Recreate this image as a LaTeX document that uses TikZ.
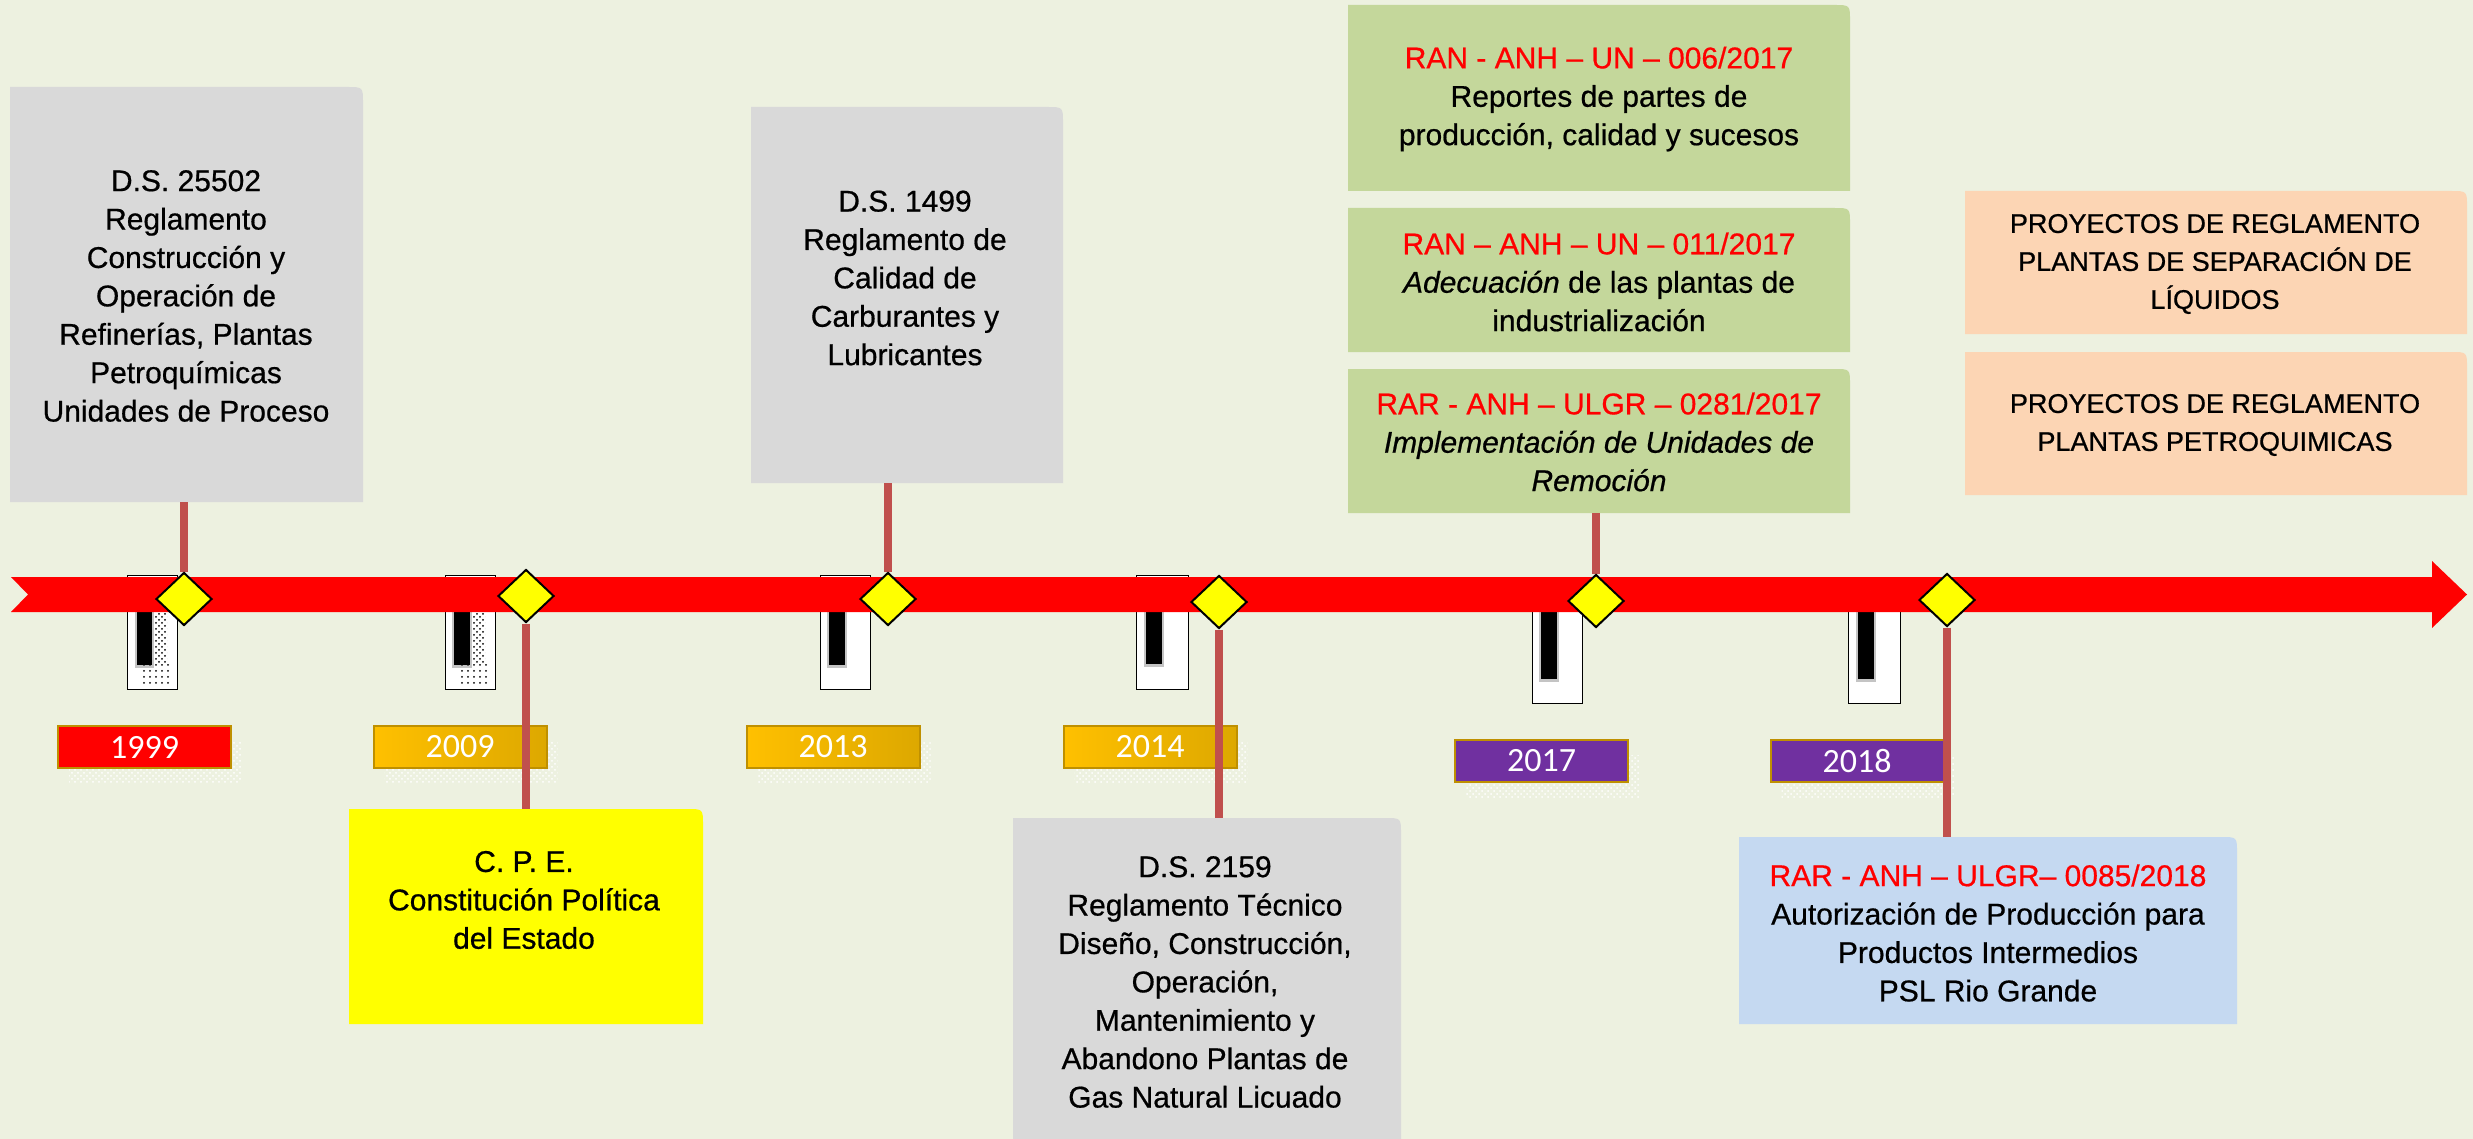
\documentclass[tikz,border=0pt]{standalone}
\usepackage{fontspec}
\setmainfont{Liberation Sans}
\newfontfamily\boxfont{Liberation Sans}[FakeBold=0.6]
\newfontfamily\yearfont{Carlito}
\usetikzlibrary{shapes.geometric,patterns,fit}
\definecolor{bgc}{HTML}{EDF1E0}
\definecolor{grayc}{HTML}{D9D9D9}
\definecolor{yelc}{HTML}{FFFF00}
\definecolor{greenc}{HTML}{C4D79B}
\definecolor{orangec}{HTML}{FCD5B4}
\definecolor{bluec}{HTML}{C5D9F1}
\definecolor{stemc}{HTML}{C0504D}
\definecolor{bandc}{HTML}{FF0000}
\definecolor{purc}{HTML}{7030A0}
\definecolor{golda}{HTML}{FFC000}
\definecolor{goldb}{HTML}{DDA800}
\definecolor{bordc}{HTML}{BF9000}
\definecolor{redt}{HTML}{FF0000}
\definecolor{barsh}{HTML}{C4C4C4}
\newcommand{\mkbox}[6]{%
  \coordinate (#1-a) at (#2,#3);
  \coordinate (#1-b) at (#4,#5);
  \node[fit=(#1-a)(#1-b), inner sep=0pt, outer sep=0pt] (#1) {};
  \fill[#6] (#1.south west) -- (#1.north west) -- ([xshift=-8pt]#1.north east)
     .. controls (#1.north east) .. ([yshift=-8pt]#1.north east) -- (#1.south east) -- cycle;
}
\newcommand{\mkmark}[7]{%
  \filldraw[fill=white, draw=black, line width=0.5pt] (#1,#2) rectangle (#3,#4);
  \fill[barsh] ({#5-2},600) rectangle ({#6+2},{#7+3});
  \fill[black] (#5,600) rectangle (#6,#7);
}
\newcommand{\mkyear}[5]{%
  \fill[pattern=crosshatch dots, pattern color=white] ({#2-86.5+11},{#3-21+15}) rectangle ({#2+86.5+11},{#3+21+15});
  \node[yr, #4] (#1) at (#2,#3) {#5};
}
\begin{document}
\begin{tikzpicture}[x=0.5pt,y=-0.5pt,
  txt/.style={align=center, inner sep=0pt, font=\boxfont\fontsize{15pt}{19.2pt}\selectfont},
  captxt/.style={align=center, inner sep=0pt, font=\boxfont\fontsize{13.5pt}{19pt}\selectfont},
  yr/.style={draw=bordc, line width=1pt, minimum width=86.5pt, minimum height=21pt, inner sep=0pt,
    text=white, font=\yearfont\fontsize{17pt}{20pt}\selectfont},
  dia/.style={diamond, draw=black, line width=1pt, fill=yelc, minimum width=28pt, minimum height=26.5pt, inner sep=0pt},
  stem/.style={draw=stemc, line width=4pt},
  goldf/.style={left color=golda, right color=goldb}]
\useasboundingbox (0,0) rectangle (2473,1139);
\fill[bgc] (0,0) rectangle (2473,1139);

% boxes
\mkbox{b1}{10}{87}{363}{502}{grayc}
\mkbox{b2}{349}{809}{703}{1024}{yelc}
\mkbox{b3}{751}{107}{1063}{483}{grayc}
\mkbox{b4}{1013}{818}{1401}{1170}{grayc}
\mkbox{g1}{1348}{5}{1850}{191}{greenc}
\mkbox{g2}{1348}{208}{1850}{352}{greenc}
\mkbox{g3}{1348}{369}{1850}{513}{greenc}
\mkbox{o1}{1965}{191}{2467}{334}{orangec}
\mkbox{o2}{1965}{352}{2467}{495}{orangec}
\mkbox{bl}{1739}{837}{2237}{1024}{bluec}

% markers
\mkmark{127}{575}{177}{689}{137}{152}{665}
\mkmark{445}{575}{495}{689}{454}{470}{665}
\mkmark{820}{575}{870}{689}{829}{845}{665}
\mkmark{1136}{575}{1188}{689}{1146}{1162}{664}
\mkmark{1532}{590}{1582}{703}{1541}{1557}{679}
\mkmark{1848}{590}{1900}{703}{1858}{1874}{679}
\fill[pattern=crosshatch dots, pattern color=black] (155,612) rectangle (167,662);
\fill[pattern=dots, pattern color=black] (142,664) rectangle (172,686);
\fill[pattern=crosshatch dots, pattern color=black] (473,612) rectangle (485,662);
\fill[pattern=dots, pattern color=black] (459,664) rectangle (489,686);

% timeline band
\fill[bandc] (11,577) -- (2432,577) -- (2432,561) -- (2467,594.5) -- (2432,628)
  -- (2432,612) -- (11,612) -- (28,594.5) -- cycle;

% year labels
\mkyear{y1}{144.5}{747}{fill=bandc}{1999}
\mkyear{y2}{460}{747}{goldf}{2009}
\mkyear{y3}{833}{747}{goldf}{2013}
\mkyear{y4}{1150}{747}{goldf}{2014}
\mkyear{y5}{1541.5}{761}{fill=purc}{2017}
\mkyear{y6}{1857}{761}{fill=purc}{2018}

% diamond positions (named), drawn after stems
\node[dia, draw=none, fill=none] (d1) at (184,599) {};
\node[dia, draw=none, fill=none] (d2) at (526,596) {};
\node[dia, draw=none, fill=none] (d3) at (888,599) {};
\node[dia, draw=none, fill=none] (d4) at (1219,602) {};
\node[dia, draw=none, fill=none] (d5) at (1596,601) {};
\node[dia, draw=none, fill=none] (d6) at (1947,600) {};

% stems
\draw[stem] (d1.north |- b1.south) -- (d1.north);
\draw[stem] (d3.north |- b3.south) -- (d3.north);
\draw[stem] (d5.north |- g3.south) -- (d5.north);
\draw[stem] (d2.south) -- (d2.south |- b2.north);
\draw[stem] (d4.south) -- (d4.south |- b4.north);
\draw[stem] (d6.south) -- (d6.south |- bl.north);

% diamonds
\node[dia] (dd1) at (d1) {};
\node[dia] (dd2) at (d2) {};
\node[dia] (dd3) at (d3) {};
\node[dia] (dd4) at (d4) {};
\node[dia] (dd5) at (d5) {};
\node[dia] (dd6) at (d6) {};

% texts
\node[txt] (t1) at (186,296) {D.S. 25502\\Reglamento\\Construcción y\\Operación de\\Refinerías, Plantas\\Petroquímicas\\Unidades de Proceso};
\node[txt] (t2) at (524,900) {C. P. E.\\Constitución Política\\del Estado};
\node[txt] (t3) at (905,278) {D.S. 1499\\Reglamento de\\Calidad de\\Carburantes y\\Lubricantes};
\node[txt] (t4) at (1205,982) {D.S. 2159\\Reglamento Técnico\\Diseño, Construcción,\\Operación,\\Mantenimiento y\\Abandono Plantas de\\Gas Natural Licuado};
\node[txt] (t5) at (1599,99) {\textcolor{redt}{RAN - ANH – UN – 006/2017}\\Reportes de partes de\\producción, calidad y sucesos};
\node[txt] (t6) at (1599,282) {\textcolor{redt}{RAN – ANH – UN – 011/2017}\\\textit{Adecuación} de las plantas de\\industrialización};
\node[txt] (t7) at (1599,442) {\textcolor{redt}{RAR - ANH – ULGR – 0281/2017}\\\textit{Implementación de Unidades de}\\\textit{Remoción}};
\node[captxt] (t8) at (2215,264) {PROYECTOS DE REGLAMENTO\\PLANTAS DE SEPARACIÓN DE\\LÍQUIDOS};
\node[captxt] (t9) at (2215,425) {PROYECTOS DE REGLAMENTO\\PLANTAS PETROQUIMICAS};
\node[txt] (t10) at (1988,933) {\textcolor{redt}{RAR - ANH – ULGR– 0085/2018}\\Autorización de Producción para\\Productos Intermedios\\PSL Rio Grande};
\end{tikzpicture}
\end{document}
